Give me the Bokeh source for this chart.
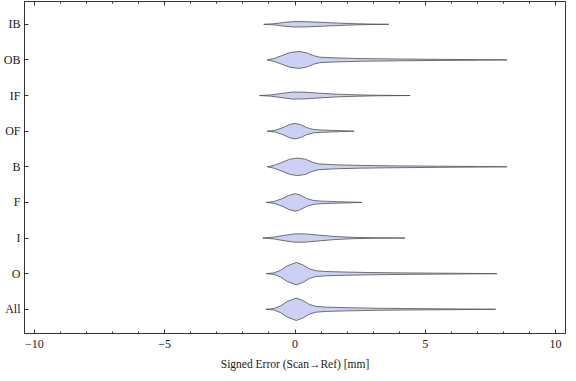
from bokeh.plotting import figure
from bokeh.models import Range1d, FixedTicker, LinearAxis, ColumnDataSource
from bokeh.embed import file_html
from bokeh.resources import INLINE

# Categories, bottom (1) to top (9)
categories = ["All", "O", "I", "F", "B", "OF", "IF", "OB", "IB"]

# Violin outlines: x positions [mm] and half-widths (category units)
x_All = [-1.11, -0.8, -0.55, -0.3, 0.05, 0.3, 0.55, 0.8, 1.2, 2.0, 3.0, 4.5, 6.0, 7.7]
w_All = [0, .022, .096, .219, .315, .247, .137, .082, .06, .044, .03, .019, .011, 0]

x_O = [-1.11, -0.8, -0.55, -0.3, 0.05, 0.3, 0.55, 0.8, 1.2, 2.0, 3.0, 4.5, 6.0, 7.75]
w_O = [0, .022, .096, .219, .315, .247, .137, .082, .06, .044, .03, .019, .011, 0]

x_I = [-1.24, -0.8, -0.4, 0.0, 0.4, 0.9, 1.5, 2.2, 3.0, 4.22]
w_I = [0, .027, .077, .118, .115, .082, .044, .019, .008, 0]

x_F = [-1.11, -0.8, -0.5, -0.25, 0.0, 0.2, 0.45, 0.7, 1.0, 1.6, 2.1, 2.57]
w_F = [0, .027, .104, .192, .247, .205, .11, .055, .036, .022, .011, 0]

x_B = [-1.07, -0.8, -0.5, -0.2, 0.1, 0.4, 0.65, 0.9, 1.5, 2.5, 4.0, 5.5, 7.0, 8.13]
w_B = [0, .041, .123, .214, .247, .214, .132, .082, .058, .038, .025, .016, .008, 0]

x_OF = [-1.07, -0.75, -0.45, -0.2, 0.0, 0.2, 0.45, 0.7, 1.0, 1.4, 1.8, 2.27]
w_OF = [0, .027, .104, .186, .219, .186, .099, .049, .033, .022, .011, 0]

x_IF = [-1.36, -0.9, -0.5, -0.1, 0.3, 0.9, 1.6, 2.4, 3.2, 4.42]
w_IF = [0, .019, .06, .099, .096, .068, .038, .019, .007, 0]

x_OB = [-1.07, -0.8, -0.5, -0.2, 0.15, 0.45, 0.7, 0.95, 1.5, 2.5, 4.0, 5.5, 7.0, 8.13]
w_OB = [0, .041, .123, .205, .238, .2, .123, .077, .058, .038, .025, .016, .008, 0]

x_IB = [-1.2, -0.8, -0.4, 0.0, 0.4, 1.0, 1.6, 2.3, 3.0, 3.6]
w_IB = [0, .016, .055, .077, .074, .055, .036, .016, .005, 0]

profiles_x = [x_All, x_O, x_I, x_F, x_B, x_OF, x_IF, x_OB, x_IB]
profiles_w = [w_All, w_O, w_I, w_F, w_B, w_OF, w_IF, w_OB, w_IB]

x_ticks = [-10, -5, 0, 5, 10]
x_tick_labels = ["\u221210", "\u22125", "0", "5", "10"]
x_minor_ticks = list(range(-10, 11))
x_title = "Signed Error (Scan\u2192Ref) [mm]"

FONT = "Liberation Serif"
FRAME = "#333333"
TEXT = "#1a1a1a"

xs, ys = [], []
for i, (px, pw) in enumerate(zip(profiles_x, profiles_w)):
    c = i + 1
    xs.append(list(px) + list(px[::-1]))
    ys.append([c + w for w in pw] + [c - w for w in pw[::-1]])

src = ColumnDataSource(dict(xs=xs, ys=ys))

p = figure(frame_width=541, frame_height=332,
           x_range=Range1d(-10.38, 10.38), y_range=Range1d(0.32, 9.64),
           output_backend="svg", toolbar_location=None,
           min_border_left=2, min_border_right=2, min_border_top=1, min_border_bottom=2,
           x_axis_label=x_title)

p.patches("xs", "ys", source=src, fill_color="#cbd0f4", fill_alpha=1.0,
          line_color="#505050", line_width=0.8)

p.grid.visible = False
p.outline_line_color = FRAME
p.outline_line_width = 1
p.background_fill_color = "white"
p.border_fill_color = "white"

xa = p.xaxis[0]
xa.ticker = FixedTicker(ticks=x_ticks, minor_ticks=x_minor_ticks)
xa.major_label_overrides = {t: l for t, l in zip(x_ticks, x_tick_labels)}
ya = p.yaxis[0]
ya.ticker = FixedTicker(ticks=list(range(1, len(categories) + 1)))
ya.major_label_overrides = {i + 1: c for i, c in enumerate(categories)}

for ax in (xa, ya):
    ax.axis_line_color = FRAME
    ax.major_tick_line_color = FRAME
    ax.minor_tick_line_color = FRAME
    ax.major_tick_in = 4
    ax.major_tick_out = 0
    ax.minor_tick_in = 2
    ax.minor_tick_out = 0
    ax.major_label_text_font = FONT
    ax.major_label_text_font_size = "12px"
    ax.major_label_text_color = TEXT
    ax.axis_label_text_font = FONT
    ax.axis_label_text_font_size = "11.5px"
    ax.axis_label_text_font_style = "normal"
    ax.axis_label_text_color = TEXT

ya.minor_tick_line_color = None
ya.major_label_standoff = 4
xa.major_label_standoff = 6
xa.axis_label_standoff = 7

top = LinearAxis(ticker=FixedTicker(ticks=x_ticks, minor_ticks=x_minor_ticks))
top.axis_line_color = FRAME
top.major_tick_line_color = FRAME
top.minor_tick_line_color = FRAME
top.major_tick_in = 4
top.major_tick_out = 0
top.minor_tick_in = 2
top.minor_tick_out = 0
top.major_label_text_color = None
top.major_label_text_font_size = "1px"
top.major_label_standoff = 0
p.add_layout(top, "above")

open("out.html", "w").write(file_html(p, INLINE))
